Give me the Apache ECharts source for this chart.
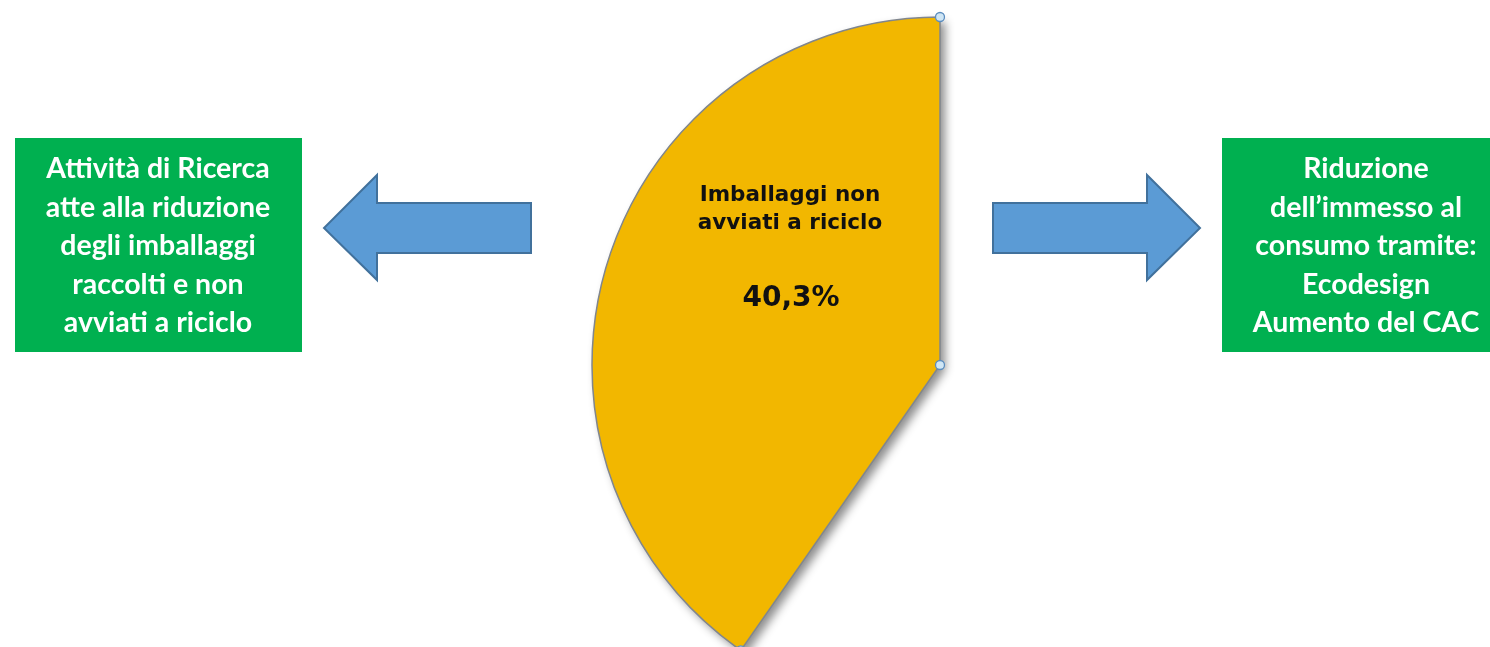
<!DOCTYPE html>
<html>
<head>
<meta charset="utf-8">
<style>html,body{margin:0;padding:0;background:#fff;}#c{width:1490px;height:647px;}</style>
<script src="https://cdn.jsdelivr.net/npm/echarts@6/dist/echarts.min.js"></script>
</head>
<body>
<div id="c"></div>
<script>
// Data
var sliceNames = ['Imballaggi non\navviati a riciclo', 'Altro'];
var sliceValues = [40.3, 59.7];
var leftBoxLines = ['Attività di Ricerca', 'atte alla riduzione', 'degli imballaggi', 'raccolti e non', 'avviati a riciclo'];
var rightBoxLines = ['Riduzione', 'dell\u2019immesso al', 'consumo tramite:', 'Ecodesign', 'Aumento del CAC'];

var chart = echarts.init(document.getElementById('c'), null, {renderer: 'canvas'});
var cx = 940, cy = 365, R = 348;
var total = sliceValues.reduce(function (a, b) { return a + b; }, 0);
var endAng = Math.PI / 2 + sliceValues[0] / total * 2 * Math.PI;
var handles = [[cx, cy - R], [cx, cy], [cx + R * Math.cos(endAng), cy - R * Math.sin(endAng)]];

function fmtPct(v) { return v.toFixed(1).replace('.', ',') + '%'; }

var graphics = [];
// arrows
graphics.push({type: 'polygon', shape: {points: [[531, 203], [377, 203], [377, 175], [324, 228], [377, 280], [377, 253], [531, 253]]},
  style: {fill: '#5B9BD5', stroke: '#41719C', lineWidth: 2}});
graphics.push({type: 'polygon', shape: {points: [[993, 203], [1147, 203], [1147, 175], [1200, 228], [1147, 280], [1147, 253], [993, 253]]},
  style: {fill: '#5B9BD5', stroke: '#41719C', lineWidth: 2}});
// boxes
graphics.push({type: 'rect', shape: {x: 15, y: 138, width: 287, height: 214}, style: {fill: '#00B050'}});
graphics.push({type: 'rect', shape: {x: 1222, y: 138, width: 290, height: 214}, style: {fill: '#00B050'}});
graphics.push({type: 'text', x: 158, y: 246, style: {text: leftBoxLines.join('\n'), fill: '#fff', font: 'bold 28.5px Lato', align: 'center', verticalAlign: 'middle', lineHeight: 38.5}});
graphics.push({type: 'text', x: 1366, y: 246, style: {text: rightBoxLines.join('\n'), fill: '#fff', font: 'bold 28.5px Lato', align: 'center', verticalAlign: 'middle', lineHeight: 38.5}});
// slice labels
graphics.push({type: 'text', x: 790, y: 209, z: 10, style: {text: sliceNames[0], fill: '#111', font: 'bold 21.5px "DejaVu Sans"', align: 'center', verticalAlign: 'middle', lineHeight: 28}});
graphics.push({type: 'text', x: 791, y: 299, z: 10, style: {text: fmtPct(sliceValues[0]), fill: '#111', font: 'bold 28px "DejaVu Sans"', align: 'center', verticalAlign: 'middle'}});
// handles
handles.forEach(function (p) {
  graphics.push({type: 'circle', z: 10, shape: {cx: p[0], cy: p[1], r: 4.5}, style: {fill: '#CFE6F5', stroke: '#5B8DBF', lineWidth: 1.3}});
});

function pieSeries(withShadow) {
  return {
    type: 'pie',
    center: [cx, cy],
    radius: R,
    startAngle: 90,
    clockwise: false,
    silent: true,
    z: withShadow ? 1 : 2,
    label: {show: false},
    labelLine: {show: false},
    data: [
      {name: sliceNames[0], value: sliceValues[0], itemStyle: withShadow
        ? {color: '#F2B700', borderWidth: 0, shadowBlur: 10, shadowOffsetX: 5, shadowOffsetY: 5, shadowColor: 'rgba(0,0,0,0.45)'}
        : {color: '#F2B700', borderColor: '#80868E', borderWidth: 1.5}},
      {name: sliceNames[1], value: sliceValues[1], itemStyle: {color: 'rgba(0,0,0,0)', borderWidth: 0}}
    ]
  };
}

chart.setOption({
  animation: false,
  series: [pieSeries(true), pieSeries(false)],
  graphic: graphics
});
</script>
</body>
</html>
